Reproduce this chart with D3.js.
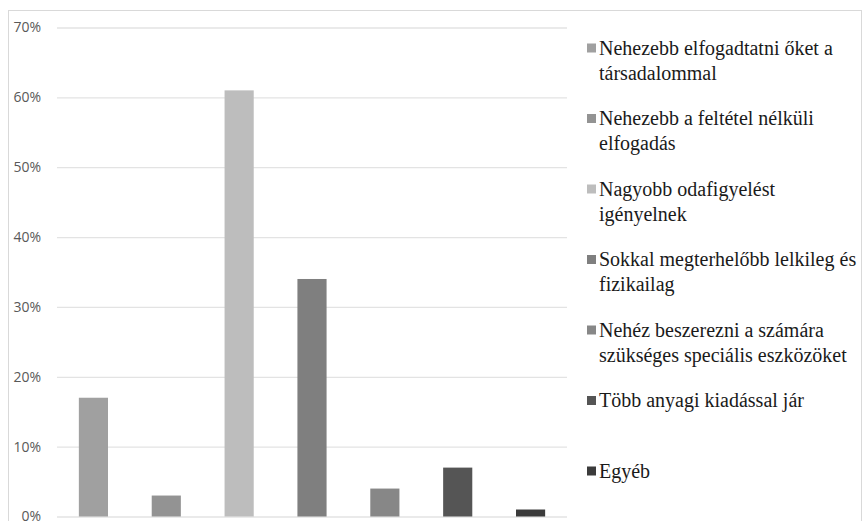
<!DOCTYPE html>
<html>
<head>
<meta charset="utf-8">
<script src="https://cdn.jsdelivr.net/npm/d3@7/dist/d3.min.js"></script>
<style>
  html, body { margin: 0; padding: 0; background: #fff; }
  svg { display: block; }
</style>
</head>
<body>
<svg id="chart" width="863" height="521"></svg>
<script>
// Categories (legend order) and their share of answers
const categories = [
  "Nehezebb elfogadtatni őket a társadalommal",
  "Nehezebb a feltétel nélküli elfogadás",
  "Nagyobb odafigyelést igényelnek",
  "Sokkal megterhelőbb lelkileg és fizikailag",
  "Nehéz beszerezni a számára szükséges speciális eszközöket",
  "Több anyagi kiadással jár",
  "Egyéb"
];
// Legend text split into the lines as they wrap
const legendLines = [
  ["Nehezebb elfogadtatni őket a", "társadalommal"],
  ["Nehezebb a feltétel nélküli", "elfogadás"],
  ["Nagyobb odafigyelést", "igényelnek"],
  ["Sokkal megterhelőbb lelkileg és", "fizikailag"],
  ["Nehéz beszerezni a számára", "szükséges speciális eszközöket"],
  ["Több anyagi kiadással jár"],
  ["Egyéb"]
];
const values = [0.17, 0.03, 0.61, 0.34, 0.04, 0.07, 0.01];
const colors = ["#a0a0a0", "#939393", "#bdbdbd", "#7f7f7f", "#878787", "#555555", "#3b3b3b"];
const yTicks = [0, 0.1, 0.2, 0.3, 0.4, 0.5, 0.6, 0.7];

const svg = d3.select("#chart");

// Chart frame
svg.append("rect")
  .attr("x", 8.5).attr("y", 10.5)
  .attr("width", 853).attr("height", 520)
  .attr("fill", "none").attr("stroke", "#d9d9d9").attr("stroke-width", 1);

const plot = { left: 57, right: 567, top: 27.5, bottom: 516.5 };

const x = d3.scaleBand()
  .domain(categories)
  .range([plot.left, plot.right])
  .paddingInner(0.6)
  .paddingOuter(0.3);

const y = d3.scaleLinear()
  .domain([0, 0.7])
  .range([plot.bottom, plot.top]);

// Horizontal gridlines with percentage labels
const yAxis = d3.axisLeft(y)
  .tickValues(yTicks)
  .tickFormat(d3.format(".0%"))
  .tickSize(-(plot.right - plot.left))
  .tickPadding(16);

const gy = svg.append("g")
  .attr("transform", `translate(${plot.left},0)`)
  .call(yAxis);
gy.select(".domain").remove();
gy.selectAll(".tick line").attr("stroke", "#e3e3e3").attr("stroke-width", 1.3);
gy.selectAll(".tick text")
  .attr("fill", "#595959")
  .style("font-family", "'Open Sans', 'Liberation Sans', sans-serif")
  .style("font-size", "14px");

// Bars
svg.append("g")
  .selectAll("rect")
  .data(categories)
  .join("rect")
  .attr("x", d => x(d))
  .attr("width", x.bandwidth())
  .attr("y", (d, i) => y(values[i]))
  .attr("height", (d, i) => y(0) - y(values[i]))
  .attr("fill", (d, i) => colors[i]);

// Legend: swatch plus wrapped serif label per category
const legendY = d3.scaleLinear().domain([0, 6]).range([48, 471]);
const legend = svg.append("g");

legendLines.forEach((lines, i) => {
  const cy = legendY(i);
  const g = legend.append("g");
  g.append("rect")
    .attr("x", 587).attr("y", cy - 4.5)
    .attr("width", 9).attr("height", 9)
    .attr("fill", colors[i]);
  lines.forEach((line, j) => {
    g.append("text")
      .attr("x", 599)
      .attr("y", cy + j * 25)
      .attr("dy", "0.33em")
      .style("font-family", "'Liberation Serif', 'Times New Roman', serif")
      .style("font-size", "20px")
      .attr("fill", "#1a1a1a")
      .text(line);
  });
});
</script>
</body>
</html>
